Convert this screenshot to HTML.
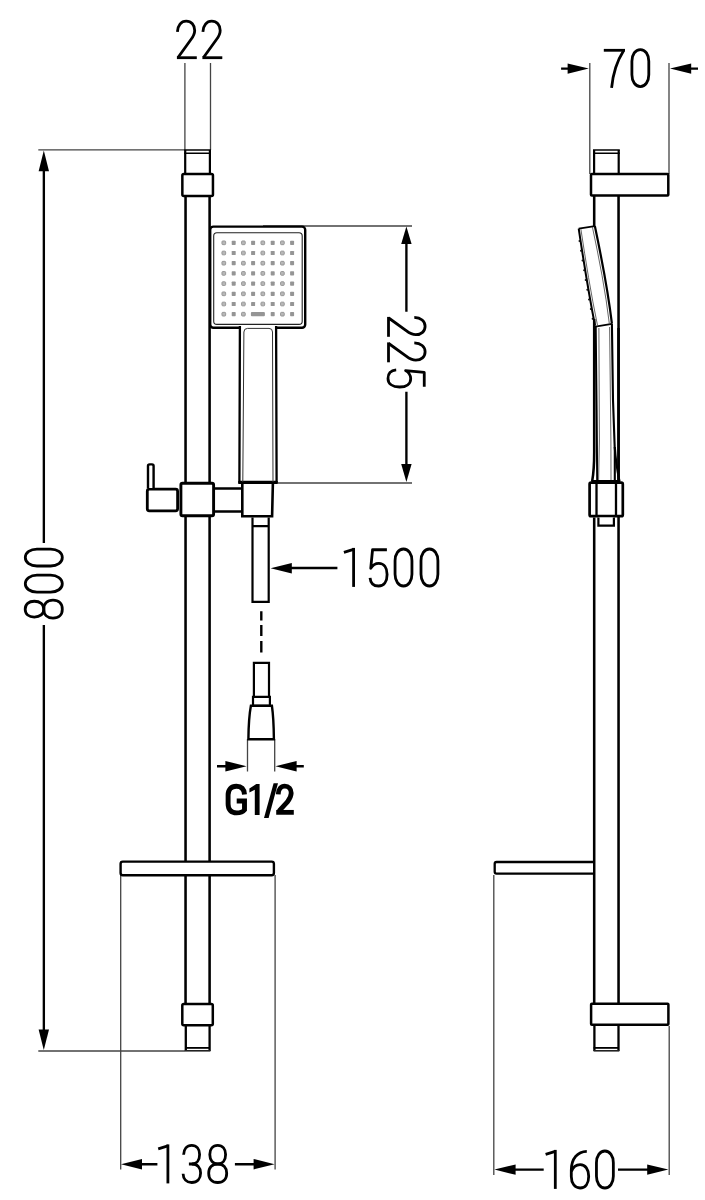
<!DOCTYPE html>
<html><head><meta charset="utf-8"><title>Shower rail dimensions</title>
<style>
html,body{margin:0;padding:0;background:#fff;}
body{width:705px;height:1200px;overflow:hidden;font-family:"Liberation Sans",sans-serif;}
svg{display:block;}
.k{stroke:#000;fill:none;stroke-linejoin:miter;}
.ext{stroke:#444;stroke-width:1.3;fill:none;}
.dg{stroke:#000;stroke-width:2.8;fill:none;stroke-linejoin:round;stroke-linecap:butt;}
</style></head><body>
<svg width="705" height="1200" viewBox="0 0 705 1200">
<rect width="705" height="1200" fill="#fff"/>
<g class="ext">
<path d="M184.9,63V150 M210.5,63V150"/>
<path d="M38.3,149.8H185 M38.3,1051H185"/>
<path d="M263,226.0H412 M277.6,483.0H412"/>
<path d="M247.5,739V771.5 M274.7,739V771.5"/>
<path d="M120.7,875V1169.5 M275.1,875V1169.5"/>
<path d="M589.8,63V174 M669,63V174"/>
<path d="M493.8,875V1175 M669.2,1026V1175"/>
</g>
<g class="k">
<path d="M185.2,150V174 M209.9,150V174" stroke-width="2.2"/><path d="M185.55,197V1004 M209.6,197V1004" stroke-width="2.55"/><path d="M185.8,1025V1051 M209.6,1025V1051" stroke-width="2.3"/>
<path d="M184.2,150.05H211 M184.2,153.3H211" stroke-width="1.5"/>
<path d="M185,1047.9H210" stroke-width="1.8"/><path d="M185,1050.8H210.4" stroke-width="1.6" stroke="#222"/>
<rect x="182.35" y="173.95" width="30.6" height="22.0" rx="1.5" stroke-width="2.5" fill="#fff"/>
<rect x="182.3" y="1004.0" width="30.5" height="21.2" rx="1.5" stroke-width="2.5" fill="#fff"/>
<rect x="120.6" y="861.6" width="153.3" height="13.7" rx="2.2" stroke-width="2.4" fill="#fff"/>
<rect x="210.2" y="226.6" width="95.0" height="101.2" rx="3.2" stroke-width="2.4" fill="#fff"/>
<rect x="241.0" y="326.0" width="34.0" height="4.0" fill="#fff" stroke="none"/>
<path d="M239.9,326 L239.4,482 H276.6 L276.1,326" stroke-width="2.3" fill="#fff"/>
<path d="M215,488.5H242 M215,511.5H242" stroke-width="2.6"/>
<rect x="180.9" y="483.3" width="32.7" height="32.5" rx="1.6" stroke-width="2.9" fill="#fff"/>
<rect x="147.3" y="489.2" width="30.3" height="21.6" rx="2" stroke-width="2.8" fill="#fff"/>
<path d="M148.0,488V466 Q148.0,464.4 149.6,464.4 H152.0 Q153.6,464.4 153.6,466 V488" stroke-width="2.4" fill="#fff"/>
<path d="M242.3,482.3 V516.2 H272.1 L272.9,482.3" stroke-width="2.6" fill="#fff"/>
<path d="M238.3,482.4H277.7" stroke-width="3"/>
<path d="M252.5,517.5V601.8H268.7V517.5 M252.5,526.1H268.7" stroke-width="2.2" fill="none"/>
<path d="M261.3,611.3V620.6 M261.3,624.9V636 M261.3,641V652.6" stroke-width="2.4"/>
<path d="M253.9,696.8V662.9H269V696.8" stroke-width="2.2" fill="none"/>
<path d="M253,696.8H269.9V705.8H253Z" stroke-width="2.2" fill="none"/>
<path d="M250.9,705.8H271.9 Q273.7,718 273.9,739.3 H248.4 Q248.6,718 250.9,705.8Z" stroke-width="2.4" fill="none"/>
</g>
<rect x="213.7" y="232.7" width="88.5" height="91.7" rx="3.2" fill="none" stroke="#222" stroke-width="1.1"/>
<g>
<rect x="221.95" y="240.95" width="3.7" height="3.7" rx="0.9" fill="#b8b8b8" stroke="#919191" stroke-width="0.9"/>
<rect x="231.7" y="240.7" width="4.0" height="4.2" rx="0.7" fill="#959595"/>
<rect x="241.55" y="240.95" width="3.7" height="3.7" rx="0.9" fill="#b8b8b8" stroke="#919191" stroke-width="0.9"/>
<rect x="251.1" y="240.7" width="4.0" height="4.2" rx="0.7" fill="#959595"/>
<rect x="260.95" y="240.95" width="3.7" height="3.7" rx="0.9" fill="#b8b8b8" stroke="#919191" stroke-width="0.9"/>
<rect x="270.7" y="240.7" width="4.0" height="4.2" rx="0.7" fill="#959595"/>
<rect x="280.55" y="240.95" width="3.7" height="3.7" rx="0.9" fill="#b8b8b8" stroke="#919191" stroke-width="0.9"/>
<rect x="290.1" y="240.7" width="4.0" height="4.2" rx="0.7" fill="#959595"/>
<rect x="221.95" y="251.15" width="3.7" height="3.7" rx="0.9" fill="#b8b8b8" stroke="#919191" stroke-width="0.9"/>
<rect x="231.7" y="250.9" width="4.0" height="4.2" rx="0.7" fill="#959595"/>
<rect x="241.55" y="251.15" width="3.7" height="3.7" rx="0.9" fill="#b8b8b8" stroke="#919191" stroke-width="0.9"/>
<rect x="251.1" y="250.9" width="4.0" height="4.2" rx="0.7" fill="#959595"/>
<rect x="260.95" y="251.15" width="3.7" height="3.7" rx="0.9" fill="#b8b8b8" stroke="#919191" stroke-width="0.9"/>
<rect x="270.7" y="250.9" width="4.0" height="4.2" rx="0.7" fill="#959595"/>
<rect x="280.55" y="251.15" width="3.7" height="3.7" rx="0.9" fill="#b8b8b8" stroke="#919191" stroke-width="0.9"/>
<rect x="290.1" y="250.9" width="4.0" height="4.2" rx="0.7" fill="#959595"/>
<rect x="221.95" y="261.35" width="3.7" height="3.7" rx="0.9" fill="#b8b8b8" stroke="#919191" stroke-width="0.9"/>
<rect x="231.7" y="261.1" width="4.0" height="4.2" rx="0.7" fill="#959595"/>
<rect x="241.55" y="261.35" width="3.7" height="3.7" rx="0.9" fill="#b8b8b8" stroke="#919191" stroke-width="0.9"/>
<rect x="251.1" y="261.1" width="4.0" height="4.2" rx="0.7" fill="#959595"/>
<rect x="260.95" y="261.35" width="3.7" height="3.7" rx="0.9" fill="#b8b8b8" stroke="#919191" stroke-width="0.9"/>
<rect x="270.7" y="261.1" width="4.0" height="4.2" rx="0.7" fill="#959595"/>
<rect x="280.55" y="261.35" width="3.7" height="3.7" rx="0.9" fill="#b8b8b8" stroke="#919191" stroke-width="0.9"/>
<rect x="290.1" y="261.1" width="4.0" height="4.2" rx="0.7" fill="#959595"/>
<rect x="221.95" y="271.55" width="3.7" height="3.7" rx="0.9" fill="#b8b8b8" stroke="#919191" stroke-width="0.9"/>
<rect x="231.7" y="271.3" width="4.0" height="4.2" rx="0.7" fill="#959595"/>
<rect x="241.55" y="271.55" width="3.7" height="3.7" rx="0.9" fill="#b8b8b8" stroke="#919191" stroke-width="0.9"/>
<rect x="251.1" y="271.3" width="4.0" height="4.2" rx="0.7" fill="#959595"/>
<rect x="260.95" y="271.55" width="3.7" height="3.7" rx="0.9" fill="#b8b8b8" stroke="#919191" stroke-width="0.9"/>
<rect x="270.7" y="271.3" width="4.0" height="4.2" rx="0.7" fill="#959595"/>
<rect x="280.55" y="271.55" width="3.7" height="3.7" rx="0.9" fill="#b8b8b8" stroke="#919191" stroke-width="0.9"/>
<rect x="290.1" y="271.3" width="4.0" height="4.2" rx="0.7" fill="#959595"/>
<rect x="221.95" y="281.75" width="3.7" height="3.7" rx="0.9" fill="#b8b8b8" stroke="#919191" stroke-width="0.9"/>
<rect x="231.7" y="281.5" width="4.0" height="4.2" rx="0.7" fill="#959595"/>
<rect x="241.55" y="281.75" width="3.7" height="3.7" rx="0.9" fill="#b8b8b8" stroke="#919191" stroke-width="0.9"/>
<rect x="251.1" y="281.5" width="4.0" height="4.2" rx="0.7" fill="#959595"/>
<rect x="260.95" y="281.75" width="3.7" height="3.7" rx="0.9" fill="#b8b8b8" stroke="#919191" stroke-width="0.9"/>
<rect x="270.7" y="281.5" width="4.0" height="4.2" rx="0.7" fill="#959595"/>
<rect x="280.55" y="281.75" width="3.7" height="3.7" rx="0.9" fill="#b8b8b8" stroke="#919191" stroke-width="0.9"/>
<rect x="290.1" y="281.5" width="4.0" height="4.2" rx="0.7" fill="#959595"/>
<rect x="221.95" y="291.95" width="3.7" height="3.7" rx="0.9" fill="#b8b8b8" stroke="#919191" stroke-width="0.9"/>
<rect x="231.7" y="291.7" width="4.0" height="4.2" rx="0.7" fill="#959595"/>
<rect x="241.55" y="291.95" width="3.7" height="3.7" rx="0.9" fill="#b8b8b8" stroke="#919191" stroke-width="0.9"/>
<rect x="251.1" y="291.7" width="4.0" height="4.2" rx="0.7" fill="#959595"/>
<rect x="260.95" y="291.95" width="3.7" height="3.7" rx="0.9" fill="#b8b8b8" stroke="#919191" stroke-width="0.9"/>
<rect x="270.7" y="291.7" width="4.0" height="4.2" rx="0.7" fill="#959595"/>
<rect x="280.55" y="291.95" width="3.7" height="3.7" rx="0.9" fill="#b8b8b8" stroke="#919191" stroke-width="0.9"/>
<rect x="290.1" y="291.7" width="4.0" height="4.2" rx="0.7" fill="#959595"/>
<rect x="221.95" y="302.15" width="3.7" height="3.7" rx="0.9" fill="#b8b8b8" stroke="#919191" stroke-width="0.9"/>
<rect x="231.7" y="301.9" width="4.0" height="4.2" rx="0.7" fill="#959595"/>
<rect x="241.55" y="302.15" width="3.7" height="3.7" rx="0.9" fill="#b8b8b8" stroke="#919191" stroke-width="0.9"/>
<rect x="251.1" y="301.9" width="4.0" height="4.2" rx="0.7" fill="#959595"/>
<rect x="260.95" y="302.15" width="3.7" height="3.7" rx="0.9" fill="#b8b8b8" stroke="#919191" stroke-width="0.9"/>
<rect x="270.7" y="301.9" width="4.0" height="4.2" rx="0.7" fill="#959595"/>
<rect x="280.55" y="302.15" width="3.7" height="3.7" rx="0.9" fill="#b8b8b8" stroke="#919191" stroke-width="0.9"/>
<rect x="290.1" y="301.9" width="4.0" height="4.2" rx="0.7" fill="#959595"/>
<rect x="221.95" y="312.35" width="3.7" height="3.7" rx="0.9" fill="#b8b8b8" stroke="#919191" stroke-width="0.9"/>
<rect x="231.7" y="312.1" width="4.0" height="4.2" rx="0.7" fill="#959595"/>
<rect x="241.55" y="312.35" width="3.7" height="3.7" rx="0.9" fill="#b8b8b8" stroke="#919191" stroke-width="0.9"/>
<rect x="270.7" y="312.1" width="4.0" height="4.2" rx="0.7" fill="#959595"/>
<rect x="280.55" y="312.35" width="3.7" height="3.7" rx="0.9" fill="#b8b8b8" stroke="#919191" stroke-width="0.9"/>
<rect x="290.1" y="312.1" width="4.0" height="4.2" rx="0.7" fill="#959595"/>
<rect x="250.9" y="312.1" width="14.0" height="4.2" rx="1" fill="#959595"/>
</g>
<path d="M242.8,482 L243.9,332 Q243.9,328.4 247.5,328.4 H269 Q272.5,328.4 272.5,332 L273,482" fill="none" stroke="#333" stroke-width="1"/>
<g class="k">
<path d="M594.1,150V174 M618.7,150V174" stroke-width="2.2"/><path d="M594.2,196V226.5 M594.2,517.5V1004 M618.55,196V1004" stroke-width="2.55"/><path d="M594.4,1025V1051 M618.5,1025V1051" stroke-width="2.3"/>
<path d="M593.0,150.05H619.8 M593.0,153.3H619.8" stroke-width="1.5"/>
<path d="M593.6,1047.9H619" stroke-width="1.8"/><path d="M593.6,1050.8H619.3" stroke-width="1.6" stroke="#222"/>
<rect x="591.0" y="173.9" width="77.3" height="21.7" rx="0.8" stroke-width="2.5" fill="#fff"/>
<rect x="591.1" y="1003.8" width="77.3" height="21.0" rx="0.8" stroke-width="2.5" fill="#fff"/>
<path d="M593.0,862 H496.5 Q494.7,862 494.7,863.8 V871.8 Q494.7,873.7 496.5,873.7 H593.0" stroke-width="2.3" fill="#fff"/>
<path d="M578.7,228.6 L594.85,226.1 C601.6,258.1 608.1,291.5 611.9,323.5 L595.6,326.6 C588.7,293.5 583.5,260.6 578.7,228.6Z" stroke="none" fill="#fff"/>
<path d="M595.6,326.6 L596.6,410 L597.2,481 H614.8 L614.8,450 L613.0,400 L611.9,323.5 Z" stroke="none" fill="#fff"/>
<path d="M595.0,325.5 C588.7,293.5 583.5,260.6 578.7,228.6" stroke-width="2.0"/>
<path d="M578.7,228.6 L594.85,226.1" stroke-width="1.9"/>
<path d="M594.85,226.1 C601.6,258.1 608.1,291.5 611.9,323.5" stroke-width="2.2"/>
<path d="M595.4,326.6 L611.9,323.9" stroke-width="1.6"/>
<path d="M594.2,319V452 Q594.2,470 592.2,481" stroke-width="2.55"/>
<path d="M595.7,326 L596.6,410 L597.2,481" stroke-width="2.0"/>
<path d="M611.9,323.5 L613.0,400 L614.8,450 V481" stroke-width="2.1"/>
<path d="M614.8,447 Q615.6,462 619.4,481" stroke-width="2.2"/>
<path d="M618.55,328V481" stroke-width="2.55"/>
<path d="M591.3,481.0H620.2" stroke-width="2.0"/>
<rect x="589.6" y="482.7" width="33.2" height="33.5" rx="1.5" stroke-width="2.7" fill="#fff"/>
<path d="M596.5,483V516 M616,483V516" stroke-width="2.3"/>
<path d="M598.4,517.5V525.6H613.9V517.5" stroke-width="2.2" fill="#fff"/>
</g>
<path d="M580.9,229.2 C585.7,261 590.9,293.8 597.7,326.3 M598.9,328 L599.4,440 L598.6,480 M592.4,227 C599.1,258.5 605.6,291.8 609.4,324.2 M609.6,327 L610.9,440 L611,480" fill="none" stroke="#555" stroke-width="0.9"/>
<g fill="#111">
<circle cx="579.5" cy="241.1" r="1.0"/>
<circle cx="581.0" cy="250.8" r="1.0"/>
<circle cx="582.5" cy="260.5" r="1.0"/>
<circle cx="584.1" cy="270.2" r="1.0"/>
<circle cx="585.7" cy="280.0" r="1.0"/>
<circle cx="587.3" cy="289.7" r="1.0"/>
<circle cx="589.0" cy="299.4" r="1.0"/>
<circle cx="590.8" cy="309.1" r="1.0"/>
<circle cx="592.6" cy="318.8" r="1.0"/>
</g>
<g fill="#000" stroke="none">
<path d="M43.8,150.6 L38.599999999999994,171.2 H49.0Z"/>
<path d="M43.8,1050 L38.599999999999994,1029.4 H49.0Z"/>
<path d="M406.4,226.6 L401.2,244.1 H411.59999999999997Z"/>
<path d="M406.4,482 L401.2,464 H411.59999999999997Z"/>
<path d="M270.6,568.2 L291.8,563.0 V573.4000000000001Z"/>
<path d="M246.6,766.2 L225.4,761.0 V771.4000000000001Z"/>
<path d="M275.4,766.2 L296.59999999999997,761.0 V771.4000000000001Z"/>
<path d="M121,1164.2 L142,1159.0 V1169.4Z"/>
<path d="M274.6,1164.2 L253.60000000000002,1159.0 V1169.4Z"/>
<path d="M588.8,68.6 L567.5999999999999,63.39999999999999 V73.8Z"/>
<path d="M670,68.6 L691.2,63.39999999999999 V73.8Z"/>
<path d="M494.4,1169.6 L515.6,1164.3999999999999 V1174.8Z"/>
<path d="M668.4,1169.6 L647.1999999999999,1164.3999999999999 V1174.8Z"/>
</g>
<g class="k" stroke-width="2.35">
<path d="M43.85,168V543.0 M43.85,625.1V1032"/>
<path d="M406.4,242V311.8 M406.4,391.8V466"/>
<path d="M290,568.0H337.4"/>
<path d="M217,766.2H229 M293,766.2H303.8"/>
<path d="M139,1164.2H157.4 M234.9,1164.2H257"/>
<path d="M561.1,68.6H572 M687,68.6H698"/>
<path d="M513,1169.6H543.7 M618,1169.6H650"/>
</g>
<g class="dg" transform="translate(0,20.1)"><path transform="translate(176.0,0)" d="M1.4,11.8 C1.6,5.2 5.2,1.0 10.2,1.0 C15.3,1.0 18.7,4.8 18.7,10.3 C18.7,13.8 17.3,16.4 14.6,19.9 L2.0,37.4"/><path transform="translate(176.0,0)" d="M0.9,37.6 H20.8"/><path transform="translate(201.5,0)" d="M1.4,11.8 C1.6,5.2 5.2,1.0 10.2,1.0 C15.3,1.0 18.7,4.8 18.7,10.3 C18.7,13.8 17.3,16.4 14.6,19.9 L2.0,37.4"/><path transform="translate(201.5,0)" d="M0.9,37.6 H20.8"/></g>
<g class="dg" transform="translate(0,48.45)"><path transform="translate(603.8,0)" d="M0,1.85 H21.2"/><path transform="translate(603.8,0)" d="M19.75,2.2 C13.5,12 9.2,24 7.8,39.4"/><path transform="translate(630.5,0)" d="M1.4,12.8 C1.4,6.2 4.85,1.1 9.85,1.1 C14.85,1.1 18.3,6.2 18.3,12.8 V26.4 C18.3,33 14.85,38.1 9.85,38.1 C4.85,38.1 1.4,33 1.4,26.4 Z"/></g>
<g class="dg" transform="translate(0,547.9)"><path transform="translate(343.6,0)" d="M0.3,4.5 L10.0,1.55"/><path transform="translate(343.6,0)" d="M10.0,0 V39"/><path transform="translate(368.6,0)" d="M18.3,1.85 H3.95 L2.15,20.5 C3.9,17.4 6.9,15.4 10.2,15.4 C15.3,15.4 18.5,19.8 18.5,26.5 C18.5,33.6 15.3,38.1 10,38.1 C5,38.1 1.9,35 1.45,29.9"/><path transform="translate(393.65,0)" d="M1.4,12.8 C1.4,6.2 4.85,1.1 9.85,1.1 C14.85,1.1 18.3,6.2 18.3,12.8 V26.4 C18.3,33 14.85,38.1 9.85,38.1 C4.85,38.1 1.4,33 1.4,26.4 Z"/><path transform="translate(419.6,0)" d="M1.4,12.8 C1.4,6.2 4.85,1.1 9.85,1.1 C14.85,1.1 18.3,6.2 18.3,12.8 V26.4 C18.3,33 14.85,38.1 9.85,38.1 C4.85,38.1 1.4,33 1.4,26.4 Z"/></g>
<g class="dg" transform="translate(0,1144.4)"><path transform="translate(157.9,0)" d="M0.3,4.5 L10.0,1.55"/><path transform="translate(157.9,0)" d="M10.0,0 V39"/><path transform="translate(181.7,0)" d="M1.9,10.4 C2.1,4.8 5.2,1.0 10,1.0 C14.9,1.0 17.9,4.6 17.9,10.1 C17.9,15.9 14.8,19.6 10.2,19.6 H7.2"/><path transform="translate(181.7,0)" d="M10.2,19.6 C15.5,19.6 18.9,23 18.9,28.7 C18.9,34.4 15.4,38.1 10,38.1 C4.8,38.1 1.5,34.6 1.4,29.3"/><path transform="translate(207.3,0)" d="M10.4,1.0 C15.3,1.0 18.3,4.6 18.3,10.1 C18.3,15.8 15.3,19.6 10.4,19.6 C5.5,19.6 2.5,15.8 2.5,10.1 C2.5,4.6 5.5,1.0 10.4,1.0 Z"/><path transform="translate(207.3,0)" d="M10.4,19.6 C16,19.6 19.4,23.2 19.4,28.8 C19.4,34.5 16,38.1 10.4,38.1 C4.8,38.1 1.4,34.5 1.4,28.8 C1.4,23.2 4.8,19.6 10.4,19.6 Z"/></g>
<g class="dg" transform="translate(0,1149.9)"><path transform="translate(545.3,0)" d="M0.3,4.5 L10.0,1.55"/><path transform="translate(545.3,0)" d="M10.0,0 V39"/><path transform="translate(569.9,0)" d="M16.9,1.4 C7.8,1.6 1.4,8.6 1.4,20.5 V26.5 C1.4,33.3 4.9,38.1 10.2,38.1 C15.5,38.1 18.8,33.5 18.8,26.4 C18.8,19.4 15.4,14.8 10.3,14.8 C6.2,14.8 2.9,17.6 1.4,21.8"/><path transform="translate(595.05,0)" d="M1.4,12.8 C1.4,6.2 4.85,1.1 9.85,1.1 C14.85,1.1 18.3,6.2 18.3,12.8 V26.4 C18.3,33 14.85,38.1 9.85,38.1 C4.85,38.1 1.4,33 1.4,26.4 Z"/></g>
<g class="dg" transform="translate(24.2,619.55) rotate(-90)"><path transform="translate(0,0)" d="M10.4,1.0 C15.3,1.0 18.3,4.6 18.3,10.1 C18.3,15.8 15.3,19.6 10.4,19.6 C5.5,19.6 2.5,15.8 2.5,10.1 C2.5,4.6 5.5,1.0 10.4,1.0 Z"/><path transform="translate(0,0)" d="M10.4,19.6 C16,19.6 19.4,23.2 19.4,28.8 C19.4,34.5 16,38.1 10.4,38.1 C4.8,38.1 1.4,34.5 1.4,28.8 C1.4,23.2 4.8,19.6 10.4,19.6 Z"/><path transform="translate(26.05,0)" d="M1.4,12.8 C1.4,6.2 4.85,1.1 9.85,1.1 C14.85,1.1 18.3,6.2 18.3,12.8 V26.4 C18.3,33 14.85,38.1 9.85,38.1 C4.85,38.1 1.4,33 1.4,26.4 Z"/><path transform="translate(52.15,0)" d="M1.4,12.8 C1.4,6.2 4.85,1.1 9.85,1.1 C14.85,1.1 18.3,6.2 18.3,12.8 V26.4 C18.3,33 14.85,38.1 9.85,38.1 C4.85,38.1 1.4,33 1.4,26.4 Z"/></g>
<g class="dg" transform="translate(426.1,316.0) rotate(90)"><path transform="translate(0,0)" d="M1.4,11.8 C1.6,5.2 5.2,1.0 10.2,1.0 C15.3,1.0 18.7,4.8 18.7,10.3 C18.7,13.8 17.3,16.4 14.6,19.9 L2.0,37.4"/><path transform="translate(0,0)" d="M0.9,37.6 H20.8"/><path transform="translate(25.5,0)" d="M1.4,11.8 C1.6,5.2 5.2,1.0 10.2,1.0 C15.3,1.0 18.7,4.8 18.7,10.3 C18.7,13.8 17.3,16.4 14.6,19.9 L2.0,37.4"/><path transform="translate(25.5,0)" d="M0.9,37.6 H20.8"/><path transform="translate(52.5,0)" d="M18.3,1.85 H3.95 L2.15,20.5 C3.9,17.4 6.9,15.4 10.2,15.4 C15.3,15.4 18.5,19.8 18.5,26.5 C18.5,33.6 15.3,38.1 10,38.1 C5,38.1 1.9,35 1.45,29.9"/></g>
<g transform="translate(225.4,784.1)" fill="none" stroke="#000" stroke-width="4.9" stroke-linejoin="miter">
<path d="M19.1,10.4 C18.8,5 16,2.1 11,2.1 C5.6,2.1 2.7,5.6 2.7,11 V20 C2.7,25.4 5.7,28.8 11.2,28.8 C14.8,28.8 17.6,27.8 19.1,25.8 V16.9 H11.3"/>
</g>
<path transform="translate(249.3,784.1)" d="M10.3,0 V30.8 H5.5 V5.7 L0.1,8.5 V4.5 L7.0,0 Z" fill="#000"/>
<path d="M273.6,783.2 H278.0 L268.6,817.9 H264.0 Z" fill="#000"/>
<g transform="translate(275.6,784.1)" fill="none" stroke="#000" stroke-width="4.8">
<path d="M2.6,10.3 C2.8,5 5.4,2 9.2,2 C13.1,2 15.6,4.8 15.6,9 C15.6,12 14.2,14.8 11.8,17.8 L3.3,27"/>
<path d="M0.6,28.25 H18.2"/>
</g>
</svg>
</body></html>
